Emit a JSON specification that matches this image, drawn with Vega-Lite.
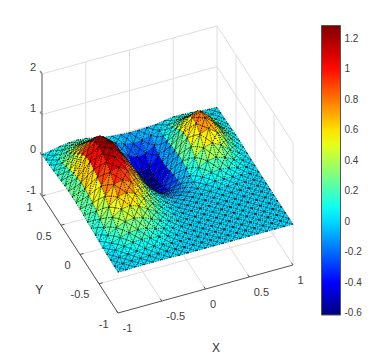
{"$schema":"https://vega.github.io/schema/vega-lite/v6.json","width":390,"height":357,"padding":0,"autosize":"none","background":"white","config":{"view":{"stroke":null}},
"datasets":{
"grid":[{"X1":-1,"Y1":-1,"Z1":-1,"X2":-1,"Y2":1,"Z2":-1},{"X1":-0.5,"Y1":-1,"Z1":-1,"X2":-0.5,"Y2":1,"Z2":-1},{"X1":0,"Y1":-1,"Z1":-1,"X2":0,"Y2":1,"Z2":-1},{"X1":0.5,"Y1":-1,"Z1":-1,"X2":0.5,"Y2":1,"Z2":-1},{"X1":1,"Y1":-1,"Z1":-1,"X2":1,"Y2":1,"Z2":-1},
{"X1":-1,"Y1":-0.5,"Z1":-1,"X2":1,"Y2":-0.5,"Z2":-1},{"X1":-1,"Y1":0,"Z1":-1,"X2":1,"Y2":0,"Z2":-1},{"X1":-1,"Y1":0.5,"Z1":-1,"X2":1,"Y2":0.5,"Z2":-1},{"X1":-1,"Y1":1,"Z1":-1,"X2":1,"Y2":1,"Z2":-1},
{"X1":-0.5,"Y1":1,"Z1":-1,"X2":-0.5,"Y2":1,"Z2":2},{"X1":0,"Y1":1,"Z1":-1,"X2":0,"Y2":1,"Z2":2},{"X1":0.5,"Y1":1,"Z1":-1,"X2":0.5,"Y2":1,"Z2":2},{"X1":1,"Y1":1,"Z1":-1,"X2":1,"Y2":1,"Z2":2},
{"X1":-1,"Y1":1,"Z1":0,"X2":1,"Y2":1,"Z2":0},{"X1":-1,"Y1":1,"Z1":1,"X2":1,"Y2":1,"Z2":1},{"X1":-1,"Y1":1,"Z1":2,"X2":1,"Y2":1,"Z2":2},
{"X1":1,"Y1":-1,"Z1":-1,"X2":1,"Y2":-1,"Z2":2},{"X1":1,"Y1":-0.5,"Z1":-1,"X2":1,"Y2":-0.5,"Z2":2},{"X1":1,"Y1":0,"Z1":-1,"X2":1,"Y2":0,"Z2":2},{"X1":1,"Y1":0.5,"Z1":-1,"X2":1,"Y2":0.5,"Z2":2},
{"X1":1,"Y1":-1,"Z1":0,"X2":1,"Y2":1,"Z2":0},{"X1":1,"Y1":-1,"Z1":1,"X2":1,"Y2":1,"Z2":1},{"X1":1,"Y1":-1,"Z1":2,"X2":1,"Y2":1,"Z2":2}],
"axes":[{"X1":-1,"Y1":-1,"Z1":-1,"X2":1,"Y2":-1,"Z2":-1},{"X1":-1,"Y1":-1,"Z1":-1,"X2":-1,"Y2":1,"Z2":-1},
{"X1":-1,"Y1":-1,"Z1":-1,"X2":-1,"Y2":-0.96,"Z2":-1},{"X1":-0.5,"Y1":-1,"Z1":-1,"X2":-0.5,"Y2":-0.96,"Z2":-1},{"X1":0,"Y1":-1,"Z1":-1,"X2":0,"Y2":-0.96,"Z2":-1},{"X1":0.5,"Y1":-1,"Z1":-1,"X2":0.5,"Y2":-0.96,"Z2":-1},{"X1":1,"Y1":-1,"Z1":-1,"X2":1,"Y2":-0.96,"Z2":-1},
{"X1":-1,"Y1":-0.5,"Z1":-1,"X2":-0.96,"Y2":-0.5,"Z2":-1},{"X1":-1,"Y1":0,"Z1":-1,"X2":-0.96,"Y2":0,"Z2":-1},{"X1":-1,"Y1":0.5,"Z1":-1,"X2":-0.96,"Y2":0.5,"Z2":-1},{"X1":-1,"Y1":1,"Z1":-1,"X2":-0.96,"Y2":1,"Z2":-1}],
"zaxis":[{"X1":-1,"Y1":1,"Z1":-1,"X2":-1,"Y2":1,"Z2":2},{"X1":-1,"Y1":1,"Z1":-1,"X2":-1,"Y2":1.05,"Z2":-1},{"X1":-1,"Y1":1,"Z1":0,"X2":-1,"Y2":1.05,"Z2":0},{"X1":-1,"Y1":1,"Z1":1,"X2":-1,"Y2":1.05,"Z2":1},{"X1":-1,"Y1":1,"Z1":2,"X2":-1,"Y2":1.05,"Z2":2}],
"xl":[{"t":"-1","X":-1,"Y":-1,"Z":-1},{"t":"-0.5","X":-0.5,"Y":-1,"Z":-1},{"t":"0","X":0,"Y":-1,"Z":-1},{"t":"0.5","X":0.5,"Y":-1,"Z":-1},{"t":"1","X":1,"Y":-1,"Z":-1}],
"yl":[{"t":"-1","X":-1,"Y":-1,"Z":-1},{"t":"-0.5","X":-1,"Y":-0.5,"Z":-1},{"t":"0","X":-1,"Y":0,"Z":-1},{"t":"0.5","X":-1,"Y":0.5,"Z":-1},{"t":"1","X":-1,"Y":1,"Z":-1}],
"zl":[{"t":"-1","X":-1,"Y":1,"Z":-1},{"t":"0","X":-1,"Y":1,"Z":0},{"t":"1","X":-1,"Y":1,"Z":1},{"t":"2","X":-1,"Y":1,"Z":2}],
"titles":[{"t":"X","X":-0.27,"Y":-1.9,"Z":-1},{"t":"Y","X":-1.62,"Y":-0.353,"Z":-1}],
"surf":[
{"X":1,"Y":1,"Z":0},{"X":0.9,"Y":1,"Z":0.01},{"X":0.8,"Y":1,"Z":0.03},{"X":0.7,"Y":1,"Z":0.05},{"X":0.6,"Y":1,"Z":0.06},{"X":0.5,"Y":1,"Z":0.06},{"X":0.4,"Y":1,"Z":0.03},{"X":0.3,"Y":1,"Z":-0.01},{"X":0.2,"Y":1,"Z":-0.02},{"X":0.1,"Y":1,"Z":-0.03},{"X":0,"Y":1,"Z":-0.03},{"X":-0.1,"Y":1,"Z":-0.02},{"X":-0.2,"Y":1,"Z":0},{"X":-0.3,"Y":1,"Z":0.03},{"X":-0.4,"Y":1,"Z":0.08},{"X":-0.5,"Y":1,"Z":0.12},{"X":-0.6,"Y":1,"Z":0.14},{"X":-0.7,"Y":1,"Z":0.13},{"X":-0.8,"Y":1,"Z":0.1},{"X":-0.9,"Y":1,"Z":0.05},{"X":-1,"Y":1,"Z":0.02},
{"X":1,"Y":0.9,"Z":0.01},{"X":0.9,"Y":0.9,"Z":0.03},{"X":0.8,"Y":0.9,"Z":0.07},{"X":0.7,"Y":0.9,"Z":0.12},{"X":0.6,"Y":0.9,"Z":0.15},{"X":0.5,"Y":0.9,"Z":0.13},{"X":0.4,"Y":0.9,"Z":0.07},{"X":0.3,"Y":0.9,"Z":-0.01},{"X":0.2,"Y":0.9,"Z":-0.08},{"X":0.1,"Y":0.9,"Z":-0.14},{"X":0,"Y":0.9,"Z":-0.16},{"X":-0.1,"Y":0.9,"Z":-0.12},{"X":-0.2,"Y":0.9,"Z":-0.03},{"X":-0.3,"Y":0.9,"Z":0.04},{"X":-0.4,"Y":0.9,"Z":0.13},{"X":-0.5,"Y":0.9,"Z":0.2},{"X":-0.6,"Y":0.9,"Z":0.23},{"X":-0.7,"Y":0.9,"Z":0.22},{"X":-0.8,"Y":0.9,"Z":0.16},{"X":-0.9,"Y":0.9,"Z":0.08},{"X":-1,"Y":0.9,"Z":0.03},
{"X":1,"Y":0.8,"Z":0.01},{"X":0.9,"Y":0.8,"Z":0.05},{"X":0.8,"Y":0.8,"Z":0.13},{"X":0.7,"Y":0.8,"Z":0.24},{"X":0.6,"Y":0.8,"Z":0.3},{"X":0.5,"Y":0.8,"Z":0.27},{"X":0.4,"Y":0.8,"Z":0.15},{"X":0.3,"Y":0.8,"Z":-0.01},{"X":0.2,"Y":0.8,"Z":-0.17},{"X":0.1,"Y":0.8,"Z":-0.31},{"X":0,"Y":0.8,"Z":-0.35},{"X":-0.1,"Y":0.8,"Z":-0.25},{"X":-0.2,"Y":0.8,"Z":-0.1},{"X":-0.3,"Y":0.8,"Z":0.06},{"X":-0.4,"Y":0.8,"Z":0.2},{"X":-0.5,"Y":0.8,"Z":0.31},{"X":-0.6,"Y":0.8,"Z":0.36},{"X":-0.7,"Y":0.8,"Z":0.34},{"X":-0.8,"Y":0.8,"Z":0.25},{"X":-0.9,"Y":0.8,"Z":0.12},{"X":-1,"Y":0.8,"Z":0.04},
{"X":1,"Y":0.7,"Z":0.02},{"X":0.9,"Y":0.7,"Z":0.09},{"X":0.8,"Y":0.7,"Z":0.22},{"X":0.7,"Y":0.7,"Z":0.4},{"X":0.6,"Y":0.7,"Z":0.51},{"X":0.5,"Y":0.7,"Z":0.45},{"X":0.4,"Y":0.7,"Z":0.26},{"X":0.3,"Y":0.7,"Z":0.01},{"X":0.2,"Y":0.7,"Z":-0.26},{"X":0.1,"Y":0.7,"Z":-0.49},{"X":0,"Y":0.7,"Z":-0.56},{"X":-0.1,"Y":0.7,"Z":-0.41},{"X":-0.2,"Y":0.7,"Z":-0.15},{"X":-0.3,"Y":0.7,"Z":0.09},{"X":-0.4,"Y":0.7,"Z":0.29},{"X":-0.5,"Y":0.7,"Z":0.45},{"X":-0.6,"Y":0.7,"Z":0.53},{"X":-0.7,"Y":0.7,"Z":0.5},{"X":-0.8,"Y":0.7,"Z":0.37},{"X":-0.9,"Y":0.7,"Z":0.18},{"X":-1,"Y":0.7,"Z":0.05},
{"X":1,"Y":0.6,"Z":0.03},{"X":0.9,"Y":0.6,"Z":0.12},{"X":0.8,"Y":0.6,"Z":0.31},{"X":0.7,"Y":0.6,"Z":0.56},{"X":0.6,"Y":0.6,"Z":0.72},{"X":0.5,"Y":0.6,"Z":0.64},{"X":0.4,"Y":0.6,"Z":0.37},{"X":0.3,"Y":0.6,"Z":0.05},{"X":0.2,"Y":0.6,"Z":-0.28},{"X":0.1,"Y":0.6,"Z":-0.55},{"X":0,"Y":0.6,"Z":-0.62},{"X":-0.1,"Y":0.6,"Z":-0.45},{"X":-0.2,"Y":0.6,"Z":-0.15},{"X":-0.3,"Y":0.6,"Z":0.14},{"X":-0.4,"Y":0.6,"Z":0.4},{"X":-0.5,"Y":0.6,"Z":0.62},{"X":-0.6,"Y":0.6,"Z":0.73},{"X":-0.7,"Y":0.6,"Z":0.68},{"X":-0.8,"Y":0.6,"Z":0.51},{"X":-0.9,"Y":0.6,"Z":0.24},{"X":-1,"Y":0.6,"Z":0.07},
{"X":1,"Y":0.5,"Z":0.04},{"X":0.9,"Y":0.5,"Z":0.15},{"X":0.8,"Y":0.5,"Z":0.37},{"X":0.7,"Y":0.5,"Z":0.67},{"X":0.6,"Y":0.5,"Z":0.85},{"X":0.5,"Y":0.5,"Z":0.76},{"X":0.4,"Y":0.5,"Z":0.45},{"X":0.3,"Y":0.5,"Z":0.08},{"X":0.2,"Y":0.5,"Z":-0.27},{"X":0.1,"Y":0.5,"Z":-0.55},{"X":0,"Y":0.5,"Z":-0.62},{"X":-0.1,"Y":0.5,"Z":-0.44},{"X":-0.2,"Y":0.5,"Z":-0.12},{"X":-0.3,"Y":0.5,"Z":0.2},{"X":-0.4,"Y":0.5,"Z":0.52},{"X":-0.5,"Y":0.5,"Z":0.79},{"X":-0.6,"Y":0.5,"Z":0.93},{"X":-0.7,"Y":0.5,"Z":0.86},{"X":-0.8,"Y":0.5,"Z":0.64},{"X":-0.9,"Y":0.5,"Z":0.3},{"X":-1,"Y":0.5,"Z":0.09},
{"X":1,"Y":0.4,"Z":0.04},{"X":0.9,"Y":0.4,"Z":0.15},{"X":0.8,"Y":0.4,"Z":0.37},{"X":0.7,"Y":0.4,"Z":0.67},{"X":0.6,"Y":0.4,"Z":0.85},{"X":0.5,"Y":0.4,"Z":0.76},{"X":0.4,"Y":0.4,"Z":0.46},{"X":0.3,"Y":0.4,"Z":0.1},{"X":0.2,"Y":0.4,"Z":-0.23},{"X":0.1,"Y":0.4,"Z":-0.49},{"X":0,"Y":0.4,"Z":-0.55},{"X":-0.1,"Y":0.4,"Z":-0.38},{"X":-0.2,"Y":0.4,"Z":-0.07},{"X":-0.3,"Y":0.4,"Z":0.27},{"X":-0.4,"Y":0.4,"Z":0.62},{"X":-0.5,"Y":0.4,"Z":0.94},{"X":-0.6,"Y":0.4,"Z":1.1},{"X":-0.7,"Y":0.4,"Z":1.03},{"X":-0.8,"Y":0.4,"Z":0.77},{"X":-0.9,"Y":0.4,"Z":0.36},{"X":-1,"Y":0.4,"Z":0.11},
{"X":1,"Y":0.3,"Z":0.03},{"X":0.9,"Y":0.3,"Z":0.12},{"X":0.8,"Y":0.3,"Z":0.31},{"X":0.7,"Y":0.3,"Z":0.56},{"X":0.6,"Y":0.3,"Z":0.72},{"X":0.5,"Y":0.3,"Z":0.64},{"X":0.4,"Y":0.3,"Z":0.39},{"X":0.3,"Y":0.3,"Z":0.09},{"X":0.2,"Y":0.3,"Z":-0.18},{"X":0.1,"Y":0.3,"Z":-0.39},{"X":0,"Y":0.3,"Z":-0.44},{"X":-0.1,"Y":0.3,"Z":-0.29},{"X":-0.2,"Y":0.3,"Z":-0.01},{"X":-0.3,"Y":0.3,"Z":0.32},{"X":-0.4,"Y":0.3,"Z":0.69},{"X":-0.5,"Y":0.3,"Z":1.04},{"X":-0.6,"Y":0.3,"Z":1.22},{"X":-0.7,"Y":0.3,"Z":1.14},{"X":-0.8,"Y":0.3,"Z":0.85},{"X":-0.9,"Y":0.3,"Z":0.4},{"X":-1,"Y":0.3,"Z":0.12},
{"X":1,"Y":0.2,"Z":0.02},{"X":0.9,"Y":0.2,"Z":0.09},{"X":0.8,"Y":0.2,"Z":0.22},{"X":0.7,"Y":0.2,"Z":0.4},{"X":0.6,"Y":0.2,"Z":0.51},{"X":0.5,"Y":0.2,"Z":0.45},{"X":0.4,"Y":0.2,"Z":0.27},{"X":0.3,"Y":0.2,"Z":0.05},{"X":0.2,"Y":0.2,"Z":-0.17},{"X":0.1,"Y":0.2,"Z":-0.33},{"X":0,"Y":0.2,"Z":-0.37},{"X":-0.1,"Y":0.2,"Z":-0.23},{"X":-0.2,"Y":0.2,"Z":0.03},{"X":-0.3,"Y":0.2,"Z":0.4},{"X":-0.4,"Y":0.2,"Z":0.76},{"X":-0.5,"Y":0.2,"Z":1.09},{"X":-0.6,"Y":0.2,"Z":1.26},{"X":-0.7,"Y":0.2,"Z":1.18},{"X":-0.8,"Y":0.2,"Z":0.87},{"X":-0.9,"Y":0.2,"Z":0.42},{"X":-1,"Y":0.2,"Z":0.12},
{"X":1,"Y":0.1,"Z":0.01},{"X":0.9,"Y":0.1,"Z":0.05},{"X":0.8,"Y":0.1,"Z":0.13},{"X":0.7,"Y":0.1,"Z":0.24},{"X":0.6,"Y":0.1,"Z":0.3},{"X":0.5,"Y":0.1,"Z":0.27},{"X":0.4,"Y":0.1,"Z":0.16},{"X":0.3,"Y":0.1,"Z":0.02},{"X":0.2,"Y":0.1,"Z":-0.11},{"X":0.1,"Y":0.1,"Z":-0.22},{"X":0,"Y":0.1,"Z":-0.24},{"X":-0.1,"Y":0.1,"Z":-0.12},{"X":-0.2,"Y":0.1,"Z":0.11},{"X":-0.3,"Y":0.1,"Z":0.44},{"X":-0.4,"Y":0.1,"Z":0.78},{"X":-0.5,"Y":0.1,"Z":1.08},{"X":-0.6,"Y":0.1,"Z":1.24},{"X":-0.7,"Y":0.1,"Z":1.16},{"X":-0.8,"Y":0.1,"Z":0.83},{"X":-0.9,"Y":0.1,"Z":0.41},{"X":-1,"Y":0.1,"Z":0.12},
{"X":1,"Y":0,"Z":0.01},{"X":0.9,"Y":0,"Z":0.03},{"X":0.8,"Y":0,"Z":0.07},{"X":0.7,"Y":0,"Z":0.12},{"X":0.6,"Y":0,"Z":0.15},{"X":0.5,"Y":0,"Z":0.13},{"X":0.4,"Y":0,"Z":0.08},{"X":0.3,"Y":0,"Z":0.01},{"X":0.2,"Y":0,"Z":-0.06},{"X":0.1,"Y":0,"Z":-0.12},{"X":0,"Y":0,"Z":-0.13},{"X":-0.1,"Y":0,"Z":-0.03},{"X":-0.2,"Y":0,"Z":0.15},{"X":-0.3,"Y":0,"Z":0.42},{"X":-0.4,"Y":0,"Z":0.73},{"X":-0.5,"Y":0,"Z":1.01},{"X":-0.6,"Y":0,"Z":1.16},{"X":-0.7,"Y":0,"Z":1.09},{"X":-0.8,"Y":0,"Z":0.78},{"X":-0.9,"Y":0,"Z":0.39},{"X":-1,"Y":0,"Z":0.11},
{"X":1,"Y":-0.1,"Z":0},{"X":0.9,"Y":-0.1,"Z":0.01},{"X":0.8,"Y":-0.1,"Z":0.03},{"X":0.7,"Y":-0.1,"Z":0.05},{"X":0.6,"Y":-0.1,"Z":0.06},{"X":0.5,"Y":-0.1,"Z":0.06},{"X":0.4,"Y":-0.1,"Z":0.03},{"X":0.3,"Y":-0.1,"Z":0},{"X":0.2,"Y":-0.1,"Z":-0.03},{"X":0.1,"Y":-0.1,"Z":-0.05},{"X":0,"Y":-0.1,"Z":-0.05},{"X":-0.1,"Y":-0.1,"Z":0.02},{"X":-0.2,"Y":-0.1,"Z":0.16},{"X":-0.3,"Y":-0.1,"Z":0.39},{"X":-0.4,"Y":-0.1,"Z":0.66},{"X":-0.5,"Y":-0.1,"Z":0.91},{"X":-0.6,"Y":-0.1,"Z":1.05},{"X":-0.7,"Y":-0.1,"Z":0.98},{"X":-0.8,"Y":-0.1,"Z":0.71},{"X":-0.9,"Y":-0.1,"Z":0.35},{"X":-1,"Y":-0.1,"Z":0.1},
{"X":1,"Y":-0.2,"Z":0},{"X":0.9,"Y":-0.2,"Z":0},{"X":0.8,"Y":-0.2,"Z":0.01},{"X":0.7,"Y":-0.2,"Z":0.02},{"X":0.6,"Y":-0.2,"Z":0.02},{"X":0.5,"Y":-0.2,"Z":0.02},{"X":0.4,"Y":-0.2,"Z":0.01},{"X":0.3,"Y":-0.2,"Z":0},{"X":0.2,"Y":-0.2,"Z":-0.01},{"X":0.1,"Y":-0.2,"Z":-0.02},{"X":0,"Y":-0.2,"Z":-0.02},{"X":-0.1,"Y":-0.2,"Z":0.03},{"X":-0.2,"Y":-0.2,"Z":0.14},{"X":-0.3,"Y":-0.2,"Z":0.33},{"X":-0.4,"Y":-0.2,"Z":0.56},{"X":-0.5,"Y":-0.2,"Z":0.77},{"X":-0.6,"Y":-0.2,"Z":0.88},{"X":-0.7,"Y":-0.2,"Z":0.83},{"X":-0.8,"Y":-0.2,"Z":0.6},{"X":-0.9,"Y":-0.2,"Z":0.29},{"X":-1,"Y":-0.2,"Z":0.08},
{"X":1,"Y":-0.3,"Z":0},{"X":0.9,"Y":-0.3,"Z":0},{"X":0.8,"Y":-0.3,"Z":0},{"X":0.7,"Y":-0.3,"Z":0.01},{"X":0.6,"Y":-0.3,"Z":0.01},{"X":0.5,"Y":-0.3,"Z":0.01},{"X":0.4,"Y":-0.3,"Z":0},{"X":0.3,"Y":-0.3,"Z":0},{"X":0.2,"Y":-0.3,"Z":0},{"X":0.1,"Y":-0.3,"Z":-0.01},{"X":0,"Y":-0.3,"Z":-0.01},{"X":-0.1,"Y":-0.3,"Z":0.04},{"X":-0.2,"Y":-0.3,"Z":0.12},{"X":-0.3,"Y":-0.3,"Z":0.27},{"X":-0.4,"Y":-0.3,"Z":0.46},{"X":-0.5,"Y":-0.3,"Z":0.63},{"X":-0.6,"Y":-0.3,"Z":0.72},{"X":-0.7,"Y":-0.3,"Z":0.67},{"X":-0.8,"Y":-0.3,"Z":0.48},{"X":-0.9,"Y":-0.3,"Z":0.24},{"X":-1,"Y":-0.3,"Z":0.07},
{"X":1,"Y":-0.4,"Z":0},{"X":0.9,"Y":-0.4,"Z":0},{"X":0.8,"Y":-0.4,"Z":0},{"X":0.7,"Y":-0.4,"Z":0},{"X":0.6,"Y":-0.4,"Z":0},{"X":0.5,"Y":-0.4,"Z":0},{"X":0.4,"Y":-0.4,"Z":0},{"X":0.3,"Y":-0.4,"Z":0},{"X":0.2,"Y":-0.4,"Z":0},{"X":0.1,"Y":-0.4,"Z":0},{"X":0,"Y":-0.4,"Z":0},{"X":-0.1,"Y":-0.4,"Z":0.03},{"X":-0.2,"Y":-0.4,"Z":0.09},{"X":-0.3,"Y":-0.4,"Z":0.21},{"X":-0.4,"Y":-0.4,"Z":0.34},{"X":-0.5,"Y":-0.4,"Z":0.47},{"X":-0.6,"Y":-0.4,"Z":0.54},{"X":-0.7,"Y":-0.4,"Z":0.51},{"X":-0.8,"Y":-0.4,"Z":0.37},{"X":-0.9,"Y":-0.4,"Z":0.18},{"X":-1,"Y":-0.4,"Z":0.05},
{"X":1,"Y":-0.5,"Z":0},{"X":0.9,"Y":-0.5,"Z":0},{"X":0.8,"Y":-0.5,"Z":0},{"X":0.7,"Y":-0.5,"Z":0},{"X":0.6,"Y":-0.5,"Z":0},{"X":0.5,"Y":-0.5,"Z":0},{"X":0.4,"Y":-0.5,"Z":0},{"X":0.3,"Y":-0.5,"Z":0},{"X":0.2,"Y":-0.5,"Z":0},{"X":0.1,"Y":-0.5,"Z":0},{"X":0,"Y":-0.5,"Z":0},{"X":-0.1,"Y":-0.5,"Z":0.02},{"X":-0.2,"Y":-0.5,"Z":0.07},{"X":-0.3,"Y":-0.5,"Z":0.14},{"X":-0.4,"Y":-0.5,"Z":0.24},{"X":-0.5,"Y":-0.5,"Z":0.33},{"X":-0.6,"Y":-0.5,"Z":0.38},{"X":-0.7,"Y":-0.5,"Z":0.35},{"X":-0.8,"Y":-0.5,"Z":0.26},{"X":-0.9,"Y":-0.5,"Z":0.13},{"X":-1,"Y":-0.5,"Z":0.04},
{"X":1,"Y":-0.6,"Z":0},{"X":0.9,"Y":-0.6,"Z":0},{"X":0.8,"Y":-0.6,"Z":0},{"X":0.7,"Y":-0.6,"Z":0},{"X":0.6,"Y":-0.6,"Z":0},{"X":0.5,"Y":-0.6,"Z":0},{"X":0.4,"Y":-0.6,"Z":0},{"X":0.3,"Y":-0.6,"Z":0},{"X":0.2,"Y":-0.6,"Z":0},{"X":0.1,"Y":-0.6,"Z":0},{"X":0,"Y":-0.6,"Z":0},{"X":-0.1,"Y":-0.6,"Z":0.02},{"X":-0.2,"Y":-0.6,"Z":0.04},{"X":-0.3,"Y":-0.6,"Z":0.09},{"X":-0.4,"Y":-0.6,"Z":0.15},{"X":-0.5,"Y":-0.6,"Z":0.21},{"X":-0.6,"Y":-0.6,"Z":0.24},{"X":-0.7,"Y":-0.6,"Z":0.22},{"X":-0.8,"Y":-0.6,"Z":0.16},{"X":-0.9,"Y":-0.6,"Z":0.08},{"X":-1,"Y":-0.6,"Z":0.02},
{"X":1,"Y":-0.7,"Z":0},{"X":0.9,"Y":-0.7,"Z":0},{"X":0.8,"Y":-0.7,"Z":0},{"X":0.7,"Y":-0.7,"Z":0},{"X":0.6,"Y":-0.7,"Z":0},{"X":0.5,"Y":-0.7,"Z":0},{"X":0.4,"Y":-0.7,"Z":0},{"X":0.3,"Y":-0.7,"Z":0},{"X":0.2,"Y":-0.7,"Z":0},{"X":0.1,"Y":-0.7,"Z":0},{"X":0,"Y":-0.7,"Z":0},{"X":-0.1,"Y":-0.7,"Z":0.01},{"X":-0.2,"Y":-0.7,"Z":0.02},{"X":-0.3,"Y":-0.7,"Z":0.05},{"X":-0.4,"Y":-0.7,"Z":0.09},{"X":-0.5,"Y":-0.7,"Z":0.12},{"X":-0.6,"Y":-0.7,"Z":0.14},{"X":-0.7,"Y":-0.7,"Z":0.13},{"X":-0.8,"Y":-0.7,"Z":0.09},{"X":-0.9,"Y":-0.7,"Z":0.05},{"X":-1,"Y":-0.7,"Z":0.01},
{"X":1,"Y":-0.8,"Z":0},{"X":0.9,"Y":-0.8,"Z":0},{"X":0.8,"Y":-0.8,"Z":0},{"X":0.7,"Y":-0.8,"Z":0},{"X":0.6,"Y":-0.8,"Z":0},{"X":0.5,"Y":-0.8,"Z":0},{"X":0.4,"Y":-0.8,"Z":0},{"X":0.3,"Y":-0.8,"Z":0},{"X":0.2,"Y":-0.8,"Z":0},{"X":0.1,"Y":-0.8,"Z":0},{"X":0,"Y":-0.8,"Z":0},{"X":-0.1,"Y":-0.8,"Z":0},{"X":-0.2,"Y":-0.8,"Z":0.01},{"X":-0.3,"Y":-0.8,"Z":0.02},{"X":-0.4,"Y":-0.8,"Z":0.04},{"X":-0.5,"Y":-0.8,"Z":0.06},{"X":-0.6,"Y":-0.8,"Z":0.06},{"X":-0.7,"Y":-0.8,"Z":0.06},{"X":-0.8,"Y":-0.8,"Z":0.04},{"X":-0.9,"Y":-0.8,"Z":0.02},{"X":-1,"Y":-0.8,"Z":0.01},
{"X":1,"Y":-0.9,"Z":0},{"X":0.9,"Y":-0.9,"Z":0},{"X":0.8,"Y":-0.9,"Z":0},{"X":0.7,"Y":-0.9,"Z":0},{"X":0.6,"Y":-0.9,"Z":0},{"X":0.5,"Y":-0.9,"Z":0},{"X":0.4,"Y":-0.9,"Z":0},{"X":0.3,"Y":-0.9,"Z":0},{"X":0.2,"Y":-0.9,"Z":0},{"X":0.1,"Y":-0.9,"Z":0},{"X":0,"Y":-0.9,"Z":0},{"X":-0.1,"Y":-0.9,"Z":0},{"X":-0.2,"Y":-0.9,"Z":0},{"X":-0.3,"Y":-0.9,"Z":0.01},{"X":-0.4,"Y":-0.9,"Z":0.02},{"X":-0.5,"Y":-0.9,"Z":0.02},{"X":-0.6,"Y":-0.9,"Z":0.03},{"X":-0.7,"Y":-0.9,"Z":0.02},{"X":-0.8,"Y":-0.9,"Z":0.02},{"X":-0.9,"Y":-0.9,"Z":0.01},{"X":-1,"Y":-0.9,"Z":0},
{"X":1,"Y":-1,"Z":0},{"X":0.9,"Y":-1,"Z":0},{"X":0.8,"Y":-1,"Z":0},{"X":0.7,"Y":-1,"Z":0},{"X":0.6,"Y":-1,"Z":0},{"X":0.5,"Y":-1,"Z":0},{"X":0.4,"Y":-1,"Z":0},{"X":0.3,"Y":-1,"Z":0},{"X":0.2,"Y":-1,"Z":0},{"X":0.1,"Y":-1,"Z":0},{"X":0,"Y":-1,"Z":0},{"X":-0.1,"Y":-1,"Z":0},{"X":-0.2,"Y":-1,"Z":0},{"X":-0.3,"Y":-1,"Z":0},{"X":-0.4,"Y":-1,"Z":0.01},{"X":-0.5,"Y":-1,"Z":0.01},{"X":-0.6,"Y":-1,"Z":0.01},{"X":-0.7,"Y":-1,"Z":0.01},{"X":-0.8,"Y":-1,"Z":0.01},{"X":-0.9,"Y":-1,"Z":0},{"X":-1,"Y":-1,"Z":0}
]},
"layer":[
{"encoding":{"x":{"field":"sx","type":"quantitative","scale":{"domain":[0,390],"range":[0,390],"nice":false,"zero":false},"axis":null},"y":{"field":"sy","type":"quantitative","scale":{"domain":[0,357],"range":[0,357],"nice":false,"zero":false},"axis":null}},
"layer":[
{"data":{"name":"grid"},"transform":[{"calculate":"167.5+87.5*datum.X1-38*datum.Y1","as":"sx"},{"calculate":"189.8-24*datum.X1-58.5*datum.Y1-40.7*datum.Z1","as":"sy"},{"calculate":"167.5+87.5*datum.X2-38*datum.Y2","as":"ex"},{"calculate":"189.8-24*datum.X2-58.5*datum.Y2-40.7*datum.Z2","as":"ey"}],"mark":{"type":"rule","stroke":"#dedede","strokeWidth":1},"encoding":{"x2":{"field":"ex"},"y2":{"field":"ey"}}},
{"data":{"name":"axes"},"transform":[{"calculate":"167.5+87.5*datum.X1-38*datum.Y1","as":"sx"},{"calculate":"189.8-24*datum.X1-58.5*datum.Y1-40.7*datum.Z1","as":"sy"},{"calculate":"167.5+87.5*datum.X2-38*datum.Y2","as":"ex"},{"calculate":"189.8-24*datum.X2-58.5*datum.Y2-40.7*datum.Z2","as":"ey"}],"mark":{"type":"rule","stroke":"#555555","strokeWidth":1},"encoding":{"x2":{"field":"ex"},"y2":{"field":"ey"}}},
{"data":{"name":"zaxis"},"transform":[{"calculate":"167.5+87.5*datum.X1-38*datum.Y1","as":"sx"},{"calculate":"189.8-24*datum.X1-58.5*datum.Y1-40.7*datum.Z1","as":"sy"},{"calculate":"167.5+87.5*datum.X2-38*datum.Y2","as":"ex"},{"calculate":"189.8-24*datum.X2-58.5*datum.Y2-40.7*datum.Z2","as":"ey"}],"mark":{"type":"rule","stroke":"#8a8a8a","strokeWidth":1.5},"encoding":{"x2":{"field":"ex"},"y2":{"field":"ey"}}}
]},
{"data":{"name":"surf"},
"transform":[
{"window":[{"op":"lead","field":"Z","as":"Zy"}],"groupby":["X"],"sort":[{"field":"Y","order":"ascending"}]},
{"window":[{"op":"lead","field":"Z","as":"Zx"},{"op":"lead","field":"Zy","as":"Zxy"}],"groupby":["Y"],"sort":[{"field":"X","order":"ascending"}]},
{"filter":"isValid(datum.Zy)&&isValid(datum.Zx)&&isValid(datum.Zxy)"},
{"calculate":"(datum.Z+datum.Zx+datum.Zy+datum.Zxy)/4","as":"zc"},
{"calculate":"-(24*datum.X+58.5*datum.Y)","as":"depth"},
{"calculate":"167.5+87.5*datum.X-38*datum.Y","as":"ax"},
{"calculate":"189.8-24*datum.X-58.5*datum.Y-40.7*datum.Z","as":"ay"},
{"calculate":"167.5+87.5*(datum.X+0.1)-38*datum.Y","as":"bx"},
{"calculate":"189.8-24*(datum.X+0.1)-58.5*datum.Y-40.7*datum.Zx","as":"by"},
{"calculate":"167.5+87.5*(datum.X+0.1)-38*(datum.Y+0.1)","as":"cx"},
{"calculate":"189.8-24*(datum.X+0.1)-58.5*(datum.Y+0.1)-40.7*datum.Zxy","as":"cy"},
{"calculate":"167.5+87.5*datum.X-38*(datum.Y+0.1)","as":"dx"},
{"calculate":"189.8-24*datum.X-58.5*(datum.Y+0.1)-40.7*datum.Zy","as":"dy"},
{"calculate":"(datum.ax+datum.bx+datum.cx+datum.dx)/4","as":"mx"},
{"calculate":"(datum.ay+datum.by+datum.cy+datum.dy)/4","as":"my"},
{"calculate":"{type:'Feature',properties:{},geometry:{type:'MultiPolygon',coordinates:[[[[datum.ax,datum.ay],[datum.bx,datum.by],[datum.mx,datum.my],[datum.ax,datum.ay]]],[[[datum.bx,datum.by],[datum.cx,datum.cy],[datum.mx,datum.my],[datum.bx,datum.by]]],[[[datum.cx,datum.cy],[datum.dx,datum.dy],[datum.mx,datum.my],[datum.cx,datum.cy]]],[[[datum.dx,datum.dy],[datum.ax,datum.ay],[datum.mx,datum.my],[datum.dx,datum.dy]]]]}}","as":"geo"}
],
"projection":{"type":"identity","fit":{"type":"MultiPoint","coordinates":[[0,0],[390,357]]}},
"mark":{"type":"geoshape","stroke":"#000000","strokeWidth":0.7,"strokeOpacity":0.85,"strokeDash":[1.2,1.2]},
"encoding":{"shape":{"field":"geo","type":"geojson"},"order":{"field":"depth","type":"quantitative"},
"color":{"field":"zc","type":"quantitative","scale":{"domain":[-0.613,-0.4,0.071,0.546,1.021,1.287],"range":["#00007f","#0000ff","#00ffff","#ffff00","#ff0000","#7f0000"],"interpolate":"rgb"},"legend":{"orient":"none","legendX":321.5,"legendY":25.5,"title":null,"direction":"vertical","gradientLength":289.5,"gradientThickness":19,"gradientStrokeColor":"#555555","gradientStrokeWidth":1,"values":[-0.6,-0.4,-0.2,0,0.2,0.4,0.6,0.8,1,1.2],"labelFontSize":10,"labelFont":"Liberation Sans","labelColor":"#404040","labelOffset":4,"labelOverlap":false,"labelExpr":"replace(format(datum.value,'.1~f'),'\u2212','-')"}}}},
{"encoding":{"x":{"field":"sx","type":"quantitative","scale":{"domain":[0,390],"range":[0,390],"nice":false,"zero":false},"axis":null},"y":{"field":"sy","type":"quantitative","scale":{"domain":[0,357],"range":[0,357],"nice":false,"zero":false},"axis":null}},
"layer":[
{"data":{"name":"xl"},"transform":[{"calculate":"167.5+87.5*datum.X-38*datum.Y","as":"sx"},{"calculate":"189.8-24*datum.X-58.5*datum.Y-40.7*datum.Z","as":"sy"}],"mark":{"type":"text","align":"left","baseline":"middle","dx":4.5,"dy":16,"font":"Liberation Sans","fontSize":11,"color":"#404040"},"encoding":{"text":{"field":"t"}}},
{"data":{"name":"yl"},"transform":[{"calculate":"167.5+87.5*datum.X-38*datum.Y","as":"sx"},{"calculate":"189.8-24*datum.X-58.5*datum.Y-40.7*datum.Z","as":"sy"}],"mark":{"type":"text","align":"right","baseline":"middle","dx":-9.5,"dy":11.5,"font":"Liberation Sans","fontSize":11,"color":"#404040"},"encoding":{"text":{"field":"t"}}},
{"data":{"name":"zl"},"transform":[{"calculate":"167.5+87.5*datum.X-38*datum.Y","as":"sx"},{"calculate":"189.8-24*datum.X-58.5*datum.Y-40.7*datum.Z","as":"sy"}],"mark":{"type":"text","align":"right","baseline":"middle","dx":-6,"dy":-5.5,"font":"Liberation Sans","fontSize":11,"color":"#404040"},"encoding":{"text":{"field":"t"}}},
{"data":{"name":"titles"},"transform":[{"calculate":"167.5+87.5*datum.X-38*datum.Y","as":"sx"},{"calculate":"189.8-24*datum.X-58.5*datum.Y-40.7*datum.Z","as":"sy"}],"mark":{"type":"text","align":"center","baseline":"middle","font":"Liberation Sans","fontSize":12,"color":"#333333"},"encoding":{"text":{"field":"t"}}}
]}
]}
